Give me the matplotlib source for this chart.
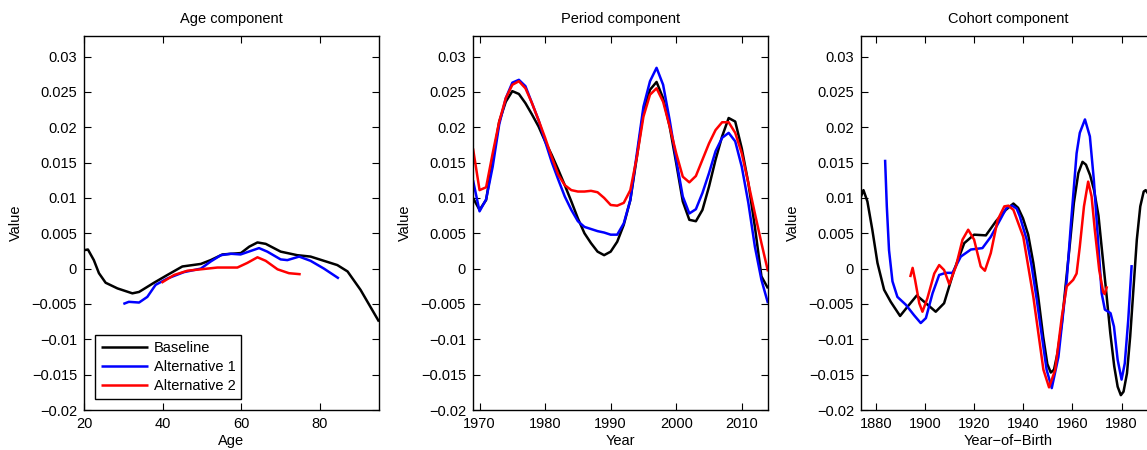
import matplotlib
matplotlib.use("Agg")
import matplotlib.pyplot as plt
from matplotlib.ticker import FuncFormatter

plt.rcParams['font.family'] = ['Liberation Sans', 'DejaVu Sans']

# ---------------- Age component ----------------
age_base_x = [20, 21, 22.5, 23.8, 25.5, 28.5, 32.3, 34, 37.8, 41.2, 45, 49.7, 52.2, 55.2,
              59.9, 62, 64.1, 66.2, 70, 74.2, 77.6, 81, 84.4, 87, 90.3, 95]
age_base_y = [0.0026, 0.0027, 0.0012, -0.00065, -0.002, -0.0028, -0.0035, -0.0033, -0.002,
              -0.0009, 0.0003, 0.00066, 0.0012, 0.002, 0.0022, 0.0031, 0.0037, 0.0035, 0.0024,
              0.0019, 0.0017, 0.0011, 0.0005, -0.0004, -0.003, -0.0075]
age_alt1_x = [30, 31.4, 34, 36.1, 38.2, 41.2, 45.4, 49.7, 52.2, 54.8, 57.3, 59.8, 62.4, 64.5,
              66.6, 70, 71.7, 74.7, 77.6, 81, 84.8]
age_alt1_y = [-0.0050, -0.0047, -0.0048, -0.0040, -0.0023, -0.0014, -0.0005, 0.0, 0.0010,
              0.0019, 0.0021, 0.0020, 0.0025, 0.0029, 0.0024, 0.0013, 0.0012, 0.0017, 0.0011,
              0.0, -0.0014]
age_alt2_x = [39.7, 42.9, 46.3, 49.7, 53.9, 59, 61.5, 64.1, 66.2, 69.2, 72.1, 75.1]
age_alt2_y = [-0.0020, -0.0009, -0.0003, -0.0001, 0.00015, 0.00015, 0.0008, 0.0016, 0.0011,
              -0.0001, -0.00065, -0.0008]

# ---------------- Period component ----------------
years = list(range(1969, 2015))
per_base = [0.0100, 0.0083, 0.0097, 0.0154, 0.0208, 0.0236, 0.0251, 0.0247, 0.0234, 0.0218,
            0.0201, 0.0180, 0.0161, 0.0140, 0.0118, 0.0095, 0.0071, 0.0050, 0.0036, 0.0024,
            0.0019, 0.0024, 0.0038, 0.0062, 0.0097, 0.0158, 0.0222, 0.0253, 0.0264, 0.0241,
            0.0201, 0.0149, 0.0095, 0.0069, 0.0067, 0.0083, 0.0116, 0.0154, 0.0187, 0.0213,
            0.0208, 0.0170, 0.0121, 0.0059, -0.0011, -0.0028]
per_alt1 = [0.0125, 0.0081, 0.0098, 0.0144, 0.0204, 0.0241, 0.0263, 0.0267, 0.0258, 0.0234,
            0.0210, 0.0180, 0.0151, 0.0126, 0.0102, 0.0083, 0.0067, 0.0059, 0.0056, 0.0053,
            0.0051, 0.0048, 0.0048, 0.0064, 0.0097, 0.0163, 0.0229, 0.0265, 0.0284, 0.0260,
            0.0210, 0.0154, 0.0102, 0.0078, 0.0084, 0.0107, 0.0135, 0.0166, 0.0185, 0.0192,
            0.0180, 0.0144, 0.0093, 0.0031, -0.0016, -0.0049]
per_alt2 = [0.0170, 0.0111, 0.0115, 0.0163, 0.0208, 0.0241, 0.0260, 0.0265, 0.0255, 0.0234,
            0.0210, 0.0185, 0.0158, 0.0133, 0.0118, 0.0111, 0.0109, 0.0109, 0.0110, 0.0108,
            0.0100, 0.0090, 0.0089, 0.0093, 0.0111, 0.0158, 0.0215, 0.0246, 0.0255, 0.0236,
            0.0201, 0.0163, 0.0130, 0.0122, 0.0131, 0.0154, 0.0177, 0.0196, 0.0207, 0.0207,
            0.0192, 0.0163, 0.0121, 0.0078, 0.0036, -0.0004]

# ---------------- Cohort component ----------------
coh_base_x = [1874, 1875, 1876.6, 1878.6, 1880.7, 1883.4, 1886.1, 1889.9, 1892.9, 1896.7,
              1900.4, 1904.4, 1907.8, 1911.9, 1916, 1920, 1924.8, 1928.9, 1932.9, 1936,
              1937.9, 1939.9, 1942, 1944.1, 1946.1, 1948.1, 1949.8, 1951.2, 1952.5, 1953.9,
              1955.7, 1957.2, 1959, 1960.6, 1962.4, 1964.1, 1965.5, 1967.2, 1968.8, 1970.6,
              1971.9, 1973.7, 1975.4, 1977, 1978.4, 1979.7, 1980.8, 1982.2, 1983.5, 1984.9,
              1986.2, 1987.6, 1989, 1989.8, 1991]
coh_base_y = [0.0102, 0.0111, 0.0095, 0.0055, 0.0008, -0.0030, -0.0047, -0.0067, -0.0054,
              -0.0038, -0.0049, -0.0061, -0.0049, -0.0002, 0.0036, 0.0048, 0.0047, 0.0067,
              0.0083, 0.0092, 0.0086, 0.0071, 0.0048, 0.0008, -0.0040, -0.0096, -0.0135,
              -0.0147, -0.0143, -0.0120, -0.0077, -0.0025, 0.0036, 0.0093, 0.0135, 0.0151,
              0.0147, 0.0132, 0.0111, 0.0075, 0.0030, -0.0031, -0.0091, -0.0138, -0.0167,
              -0.0179, -0.0174, -0.0148, -0.0096, -0.0025, 0.0041, 0.0088, 0.0109, 0.0111,
              0.0105]
coh_alt1_x = [1883.8, 1884.5, 1885.4, 1886.8, 1888.8, 1892.2, 1895.6, 1898.3, 1900.4, 1903.1,
              1905.8, 1908.5, 1911.2, 1914.6, 1918.7, 1923.4, 1926.8, 1930.9, 1933.2, 1935.5,
              1937.3, 1938.6, 1941.4, 1943.4, 1945.5, 1949.5, 1951.6, 1954.3, 1957.7, 1959.3,
              1961.7, 1963, 1965.1, 1967.1, 1968.7, 1970.5, 1971.9, 1973.2, 1975.5, 1976.9,
              1978.4, 1980, 1981.3, 1982.7, 1984.1]
coh_alt1_y = [0.0154, 0.0088, 0.0026, -0.0018, -0.0040, -0.0051, -0.0066, -0.0077, -0.0070,
              -0.0035, -0.0009, -0.0006, -0.0006, 0.0017, 0.0027, 0.0029, 0.0045, 0.0071,
              0.0086, 0.0089, 0.0085, 0.0074, 0.0041, 0.0004, -0.0044, -0.0143, -0.0169,
              -0.0125, -0.0016, 0.0059, 0.0163, 0.0192, 0.0211, 0.0187, 0.0126, 0.0036,
              -0.0035, -0.0058, -0.0063, -0.0082, -0.0129, -0.0157, -0.0134, -0.0073, 0.0005]
coh_alt2_x = [1894.0, 1895, 1896.0, 1897.7, 1899.0, 1901.0, 1903.8, 1905.8, 1907.8, 1909.9,
              1912.6, 1915.3, 1917.6, 1920, 1922.7, 1924.4, 1926.8, 1929.6, 1932.3, 1934,
              1936, 1940, 1944.1, 1948.2, 1950.5, 1953, 1955.7, 1957.7, 1960.3, 1961.7,
              1963, 1964.7, 1966.4, 1967.8, 1969.1, 1970.9, 1972.5, 1973.1, 1974.1]
coh_alt2_y = [-0.0012, 0.0001, -0.0016, -0.0049, -0.0061, -0.0042, -0.0007, 0.0005, -0.0002,
              -0.0022, 0.0003, 0.0041, 0.0055, 0.0041, 0.0003, -0.0003, 0.0022, 0.0069,
              0.0088, 0.0089, 0.0083, 0.0045, -0.0040, -0.0143, -0.0168, -0.0143, -0.0068,
              -0.0025, -0.0016, -0.0007, 0.0031, 0.0088, 0.0123, 0.0102, 0.0055, -0.0002,
              -0.0033, -0.0036, -0.0025]

series_labels = ['Baseline', 'Alternative 1', 'Alternative 2']
colors = ['black', 'blue', 'red']
yticks = [-0.02, -0.015, -0.01, -0.005, 0, 0.005, 0.01, 0.015, 0.02, 0.025, 0.03]

fig = plt.figure(figsize=(11.47, 4.5), dpi=100)
W, H = 1147.0, 450.0
bottom = (H - 410) / H
height = 374 / H
width = 295 / W
ax1 = fig.add_axes([84 / W, bottom, width, height])
ax2 = fig.add_axes([473 / W, bottom, width, height])
ax3 = fig.add_axes([861 / W, bottom, width, height])

fmt = FuncFormatter(lambda v, p: ('%g' % v).replace('-', '\u2212') if abs(v) > 1e-12 else '0')

def style(ax, title, xlabel):
    ax.set_ylim(-0.02, 0.0329)
    ax.set_yticks(yticks)
    ax.yaxis.set_major_formatter(fmt)
    ax.tick_params(direction='in', top=True, right=True, length=5, width=0.8,
                   labelsize=10.5, pad=5)
    for s in ax.spines.values():
        s.set_linewidth(1.0)
    ax.set_title(title, fontsize=10.5, pad=9)
    ax.set_xlabel(xlabel, fontsize=10.5, labelpad=2)
    ax.set_ylabel('Value', fontsize=10.5, labelpad=6)

lw = 1.8
kw = dict(lw=lw, solid_joinstyle='round', solid_capstyle='butt')
ax1.plot(age_base_x, age_base_y, color=colors[0], label=series_labels[0], **kw)
ax1.plot(age_alt1_x, age_alt1_y, color=colors[1], label=series_labels[1], **kw)
ax1.plot(age_alt2_x, age_alt2_y, color=colors[2], label=series_labels[2], **kw)
ax1.set_xlim(20, 95)
ax1.set_xticks([20, 40, 60, 80])
style(ax1, 'Age component', 'Age')
leg = ax1.legend(loc='lower left', bbox_to_anchor=(0.038, 0.03), fontsize=10.5,
                 fancybox=False, framealpha=1, edgecolor='black', handlelength=3.2,
                 labelspacing=0.35, borderpad=0.4, handletextpad=0.4, borderaxespad=0)
leg.get_frame().set_linewidth(1.0)

ax2.plot(years, per_base, color=colors[0], **kw)
ax2.plot(years, per_alt1, color=colors[1], **kw)
ax2.plot(years, per_alt2, color=colors[2], **kw)
ax2.set_xlim(1969, 2014)
ax2.set_xticks([1970, 1980, 1990, 2000, 2010])
style(ax2, 'Period component', 'Year')

ax3.plot(coh_base_x, coh_base_y, color=colors[0], **kw)
ax3.plot(coh_alt1_x, coh_alt1_y, color=colors[1], **kw)
ax3.plot(coh_alt2_x, coh_alt2_y, color=colors[2], **kw)
ax3.set_xlim(1874, 1994)
ax3.set_xticks([1880, 1900, 1920, 1940, 1960, 1980])
style(ax3, 'Cohort component', 'Year\u2212of\u2212Birth')

fig.savefig('out.png', dpi=100)
